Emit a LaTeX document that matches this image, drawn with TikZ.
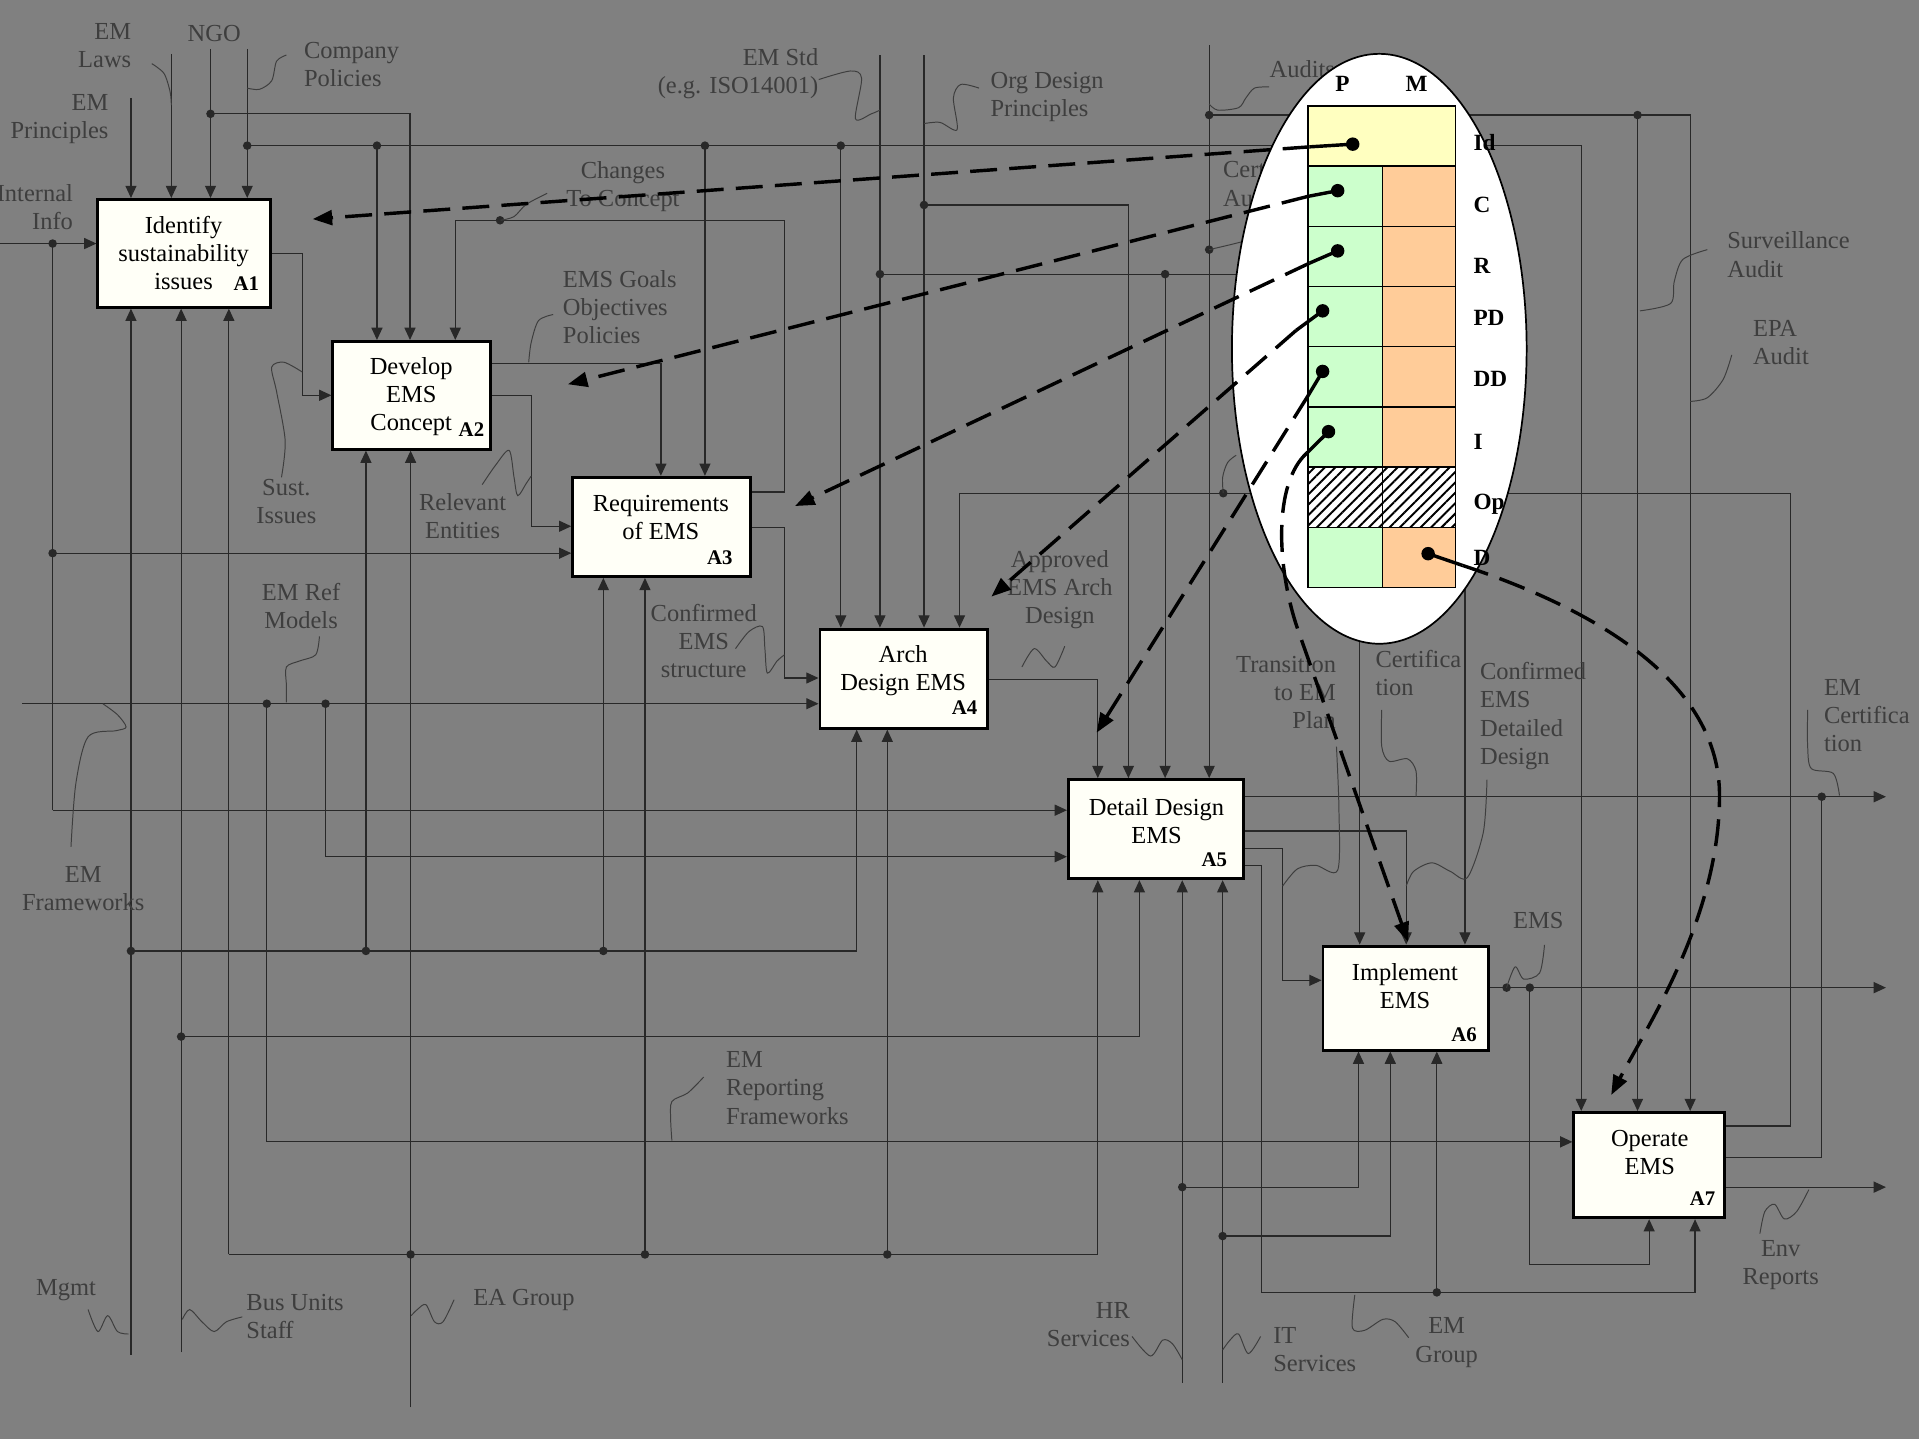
\documentclass[tikz,border=0pt]{standalone}
\usepackage{fontspec}
\setmainfont{Liberation Serif}
\usetikzlibrary{arrows.meta,patterns.meta}
\definecolor{bgcol}{RGB}{128,128,128}
\definecolor{wirecol}{RGB}{40,40,40}
\definecolor{lblcol}{RGB}{62,62,62}
\definecolor{boxcol}{RGB}{255,255,247}
\definecolor{idcol}{RGB}{255,255,192}
\definecolor{pcol}{RGB}{204,255,204}
\definecolor{mcol}{RGB}{255,204,153}

\begin{document}
\begin{tikzpicture}
  [x=0.5pt,y=-0.5pt,font=\fontsize{10}{11.5}\selectfont,
   wire/.style={draw=wirecol,line width=0.5pt},
   flow/.style={wire,-{Triangle[width=4.5pt,length=5pt]}},
   jn/.style={circle,fill=wirecol,inner sep=0pt,minimum size=3.5pt},
   proc/.style={draw=black,line width=1.2pt,fill=boxcol,inner sep=0pt},
   tag/.style={font=\fontsize{8.5}{10}\selectfont\bfseries,anchor=base east,inner sep=0pt},
   lab/.style={text=lblcol,inner sep=0pt},
   lead/.style={draw=lblcol,line width=0.4pt},
   pmdot/.style={circle,fill=black,inner sep=0pt,minimum size=5.5pt},
   pmtxt/.style={font=\fontsize{9.5}{11}\selectfont\bfseries,inner sep=0pt},
   stub/.style={line width=1.4pt},
   pmlink/.style={line width=1.4pt,dash pattern=on 11pt off 5pt,-{Triangle[length=8pt,width=6pt]}}]
  \fill[bgcol] (0,0) rectangle (1568,1176);
  \useasboundingbox (0,0) rectangle (1568,1176);

  % cac hop hoat dong
  \foreach \n/\xa/\ya/\xb/\yb in {A1/80/163/221/251,A2/272/279/401/367,A3/468/390/613/471,
    A4/670/514/807/595,A5/873/637/1016/718,A6/1081/773/1216/858,A7/1286/909/1409/995}
    \node[proc,minimum width={(\xb-\xa)*0.5pt},minimum height={(\yb-\ya)*0.5pt}]
      (\n) at ({(\xa+\xb)/2},{(\ya+\yb)/2}) {};
  \foreach \n/\p/\t in {A1/{150,207}/{Identify\\sustainability\\issues},A2/{336,324}/{Develop\\EMS\\Concept},
    A3/{540,423}/{Requirements\\of EMS},A4/{738,548}/{Arch\\Design EMS},A5/{945,671}/{Detail Design\\EMS},
    A6/{1148,806}/{Implement\\EMS},A7/{1348,942}/{Operate\\EMS}}
    \node[align=center,inner sep=0pt] (t\n) at (\p) {\t};
  \foreach \n/\p in {A1/{212,237},A2/{396,357},A3/{599,461},A4/{799,584},A5/{1003,708},A6/{1207,851},A7/{1402,985}}
    \node[tag] (g\n) at (\p) {\n};

  % dau vao, dieu khien
  \foreach \x/\y in {107/80,140/44,172/40,202/40}
    \draw[flow] (\x,\y) -- (\x,0 |- A1.north);
  \draw[flow] (172,93) -| (335,0 |- A2.north);
  \draw[flow] (202,119) -| (1292,0 |- A7.north);
  \draw[flow] (308,119) -- (308,0 |- A2.north);
  \draw[flow] (576,119) -- (576,0 |- A3.north);
  \draw[flow] (687,119) -- (687,0 |- A4.north);
  \draw[flow] (0,199) -- (A1.west |- 0,199);
  \draw[wire] (43,199) -- (43,662);
  \draw[flow] (43,662) -- (A5.west |- 0,662);
  \draw[flow] (43,452) -- (A3.west |- 0,452);
  \draw[flow] (A1.east |- 0,207) -| (247,323) -- (A2.west |- 0,323);
  \draw[flow] (A2.east |- 0,297) -| (540,0 |- A3.north);
  \draw[flow] (A2.east |- 0,323) -| (434,430) -- (A3.west |- 0,430);
  \draw[flow] (A3.east |- 0,402) -| (641,180) -| (372,0 |- A2.north);
  \draw[flow] (A3.east |- 0,431) -| (641,554) -- (A4.west |- 0,554);
  \draw[flow] (719,45) -- (719,0 |- A4.north);
  \draw[flow] (755,45) -- (755,0 |- A4.north);
  \draw[flow] (755,167.5) -| (922,0 |- A5.north);
  \draw[flow] (719,224) -| (1111,0 |- A6.north);
  \draw[flow] (952,224) -- (952,0 |- A5.north);
  \draw[flow] (988,37) -- (988,0 |- A5.north);
  \draw[flow] (988,94) -| (1381,0 |- A7.north);
  \draw[flow] (1338,94) -- (1338,0 |- A7.north);
  \draw[flow] (1197,300) -- (1197,0 |- A6.north);
  \draw[flow] (18,575) -- (A4.west |- 0,575);
  \draw[flow] (218,575) |- (A7.west |- 0,933);
  \draw[flow] (266,575) |- (A5.west |- 0,700);
  \draw[flow] (A4.east |- 0,555) -| (897,0 |- A5.north);
  \draw[flow] (A7.east |- 0,920) -| (1463,403) -| (784,0 |- A4.north);
  % dau ra
  \draw[flow] (A5.east |- 0,651) -- (1541,651);
  \draw[flow] (A5.east |- 0,679) -| (1149,0 |- A6.north);
  \draw[flow] (A5.east |- 0,693) -| (1048,801) -- (A6.west |- 0,801);
  \draw[flow] (A5.east |- 0,707) -| (1031,1056) -| (1385,0 |- A7.south);
  \draw[flow] (A6.east |- 0,807) -- (1541,807);
  \draw[flow] (1250,807) |- (1347.5,1033) -- (1347.5,0 |- A7.south);
  \draw[wire] (A7.east |- 0,946) -| (1488.5,651);
  \draw[flow] (A7.east |- 0,970) -- (1541,970);
  % co che
  \foreach \x/\y in {107/1107,148/1105}
    \draw[flow] (\x,\y) -- (\x,0 |- A1.south);
  \draw[flow] (187,1025) -- (187,0 |- A1.south);
  \draw[flow] (187,1025) -| (897,0 |- A5.south);
  \draw[flow] (335.5,1150) -- (335.5,0 |- A2.south);
  \draw[flow] (527,1025) -- (527,0 |- A3.south);
  \draw[flow] (725,1025) -- (725,0 |- A4.south);
  \draw[flow] (107,777) -| (700,0 |- A4.south);
  \draw[flow] (299,777) -- (299,0 |- A2.south);
  \draw[flow] (493,777) -- (493,0 |- A3.south);
  \draw[flow] (148,847) -| (931,0 |- A5.south);
  \draw[flow] (966,1130) -- (966,0 |- A5.south);
  \draw[flow] (999,1130) -- (999,0 |- A5.south);
  \draw[flow] (966,970) -| (1110,0 |- A6.south);
  \draw[flow] (999,1010) -| (1136,0 |- A6.south);
  \draw[flow] (1174,1056) -- (1174,0 |- A6.south);
  \foreach \p in {{43,199},{43,452},{172,93},{202,119},{308,119},{576,119},{687,119},{107,777},
    {299,777},{493,777},{148,847},{218,575},{266,575},{335.5,1025},{527,1025},{725,1025},
    {719,224},{755,167.5},{952,224},{988,94},{1338,94},{988,204},{999.5,403},{1488.5,651},
    {1231,807},{1250,807},{966,970},{999,1010},{1174,1056},{408.6,180}}
    \node[jn] at (\p) {};

  % nhan va duong dan
  \node[lab,anchor=east,align=right] (lLaws) at (107.6,37) {EM\\Laws};
  \node[lab,anchor=east,align=right] (lPrin) at (89,97) {EM\\Principles};
  \node[lab,anchor=east,align=right] (lInt) at (60,169.5) {Internal\\Info};
  \node[lab] (lNgo) at (175,27) {NGO};
  \node[lab,anchor=west,align=left] (lComp) at (248,53) {Company\\Policies};
  \node[lab,align=center] (lChg) at (509,152.6) {Changes\\To Concept};
  \node[lab,anchor=west,align=left] (lGoal) at (459.6,250.7) {EMS Goals\\Objectives\\Policies};
  \node[lab,anchor=east,align=right] (lStd) at (669,60) {EM Std\\(e.g. ISO14001)};
  \node[lab,anchor=west,align=left] (lOrg) at (809,79) {Org Design\\Principles};
  \node[lab,anchor=west] (lAud) at (1037,56.6) {Audits};
  \node[lab,anchor=west,align=left] (lCAud) at (999,150) {Certification\\Audit};
  \node[lab,anchor=west,align=left] (lSurv) at (1411,208) {Surveillance\\Audit};
  \node[lab,anchor=west,align=left] (lEpa) at (1432,280) {EPA\\Audit};
  \node[lab,align=center] (lSust) at (234,410) {Sust.\\Issues};
  \node[lab,align=center] (lRel) at (378,421.5) {Relevant\\Entities};
  \node[lab,align=center] (lRef) at (246,495) {EM Ref\\Models};
  \node[lab,align=center] (lFw) at (68,726) {EM\\Frameworks};
  \node[lab,align=center] (lConf) at (575,524) {Confirmed\\EMS\\structure};
  \node[lab,align=center] (lAppr) at (866,482) {Approved\\EMS Arch\\Design};
  \node[lab,anchor=east,align=right] (lTrans) at (1092,566) {Transition\\to EM\\Plan};
  \node[lab,anchor=west,align=left] (lCert) at (1123.6,550) {Certifica\\tion};
  \node[lab,anchor=west,align=left] (lDet) at (1209,585) {Confirmed\\EMS\\Detailed\\Design};
  \node[lab] (lEms) at (1257,752) {EMS};
  \node[lab,anchor=west,align=left] (lEmc) at (1490,585) {EM\\Certifica\\tion};
  \node[lab,align=center] (lEnv) at (1455,1034) {Env\\Reports};
  \node[lab,anchor=west,align=left] (lRep) at (593,889) {EM\\Reporting\\Frameworks};
  \node[lab] (lMg) at (54,1054) {Mgmt};
  \node[lab,anchor=west,align=left] (lBus) at (201,1076) {Bus Units\\Staff};
  \node[lab,anchor=west] (lEa) at (386.4,1062) {EA Group};
  \node[lab,anchor=east,align=right] (lHr) at (923.6,1082) {HR\\Services};
  \node[lab,anchor=west,align=left] (lIt) at (1040,1102.5) {IT\\Services};
  \node[lab,align=center] (lEmg) at (1182,1097) {EM\\Group};
  \draw[lead] plot[smooth] coordinates {(124,52) (134,60) (139,75) (140,86)};
  \draw[lead] plot[smooth] coordinates {(234,45) (226,50) (222,66) (212,73) (202,72)};
  \draw[lead] plot[smooth] coordinates {(447,158) (430,167) (420,177) (409,180)};
  \draw[lead] plot[smooth] coordinates {(452,257) (440,262) (434,280) (432,296)};
  \draw[lead] plot[smooth] coordinates {(669,65) (695,58) (704,64) (699,97) (712,93) (719,90)};
  \draw[lead] plot[smooth] coordinates {(800,72) (785,69) (779,80) (782,106) (768,100) (755,101)};
  \draw[lead] plot[smooth] coordinates {(1037,71) (1025,72) (1018,80) (1012,88) (995,90) (988,85)};
  \draw[lead] plot[smooth] coordinates {(1021,196) (1005,200) (988,204)};
  \draw[lead] plot[smooth] coordinates {(1395,204) (1375,212) (1368,230) (1365,248) (1340,254)};
  \draw[lead] plot[smooth] coordinates {(1415,290) (1408,310) (1395,325) (1381,328)};
  \draw[lead] plot[smooth] coordinates {(230,390) (233,360) (226,320) (222,300) (232,296) (247,304)};
  \draw[lead] plot[smooth] coordinates {(394,396) (405,380) (416,368) (420,390) (423,405) (430,395) (434,389)};
  \draw[lead] plot[smooth] coordinates {(261,520) (258,535) (245,540) (234,545) (234,560) (234,574)};
  \draw[lead] plot[smooth] coordinates {(58,692) (62,640) (72,602) (95,597) (103,594) (96,584) (84,575)};
  \draw[lead] plot[smooth] coordinates {(601,530) (612,516) (623,512) (625,530) (627,550) (635,540) (641,535)};
  \draw[lead] plot[smooth] coordinates {(835,545) (845,530) (855,540) (862,545) (870,528)};
  \draw[lead] plot[smooth] coordinates {(1092,610) (1094,660) (1093,711) (1075,707) (1060,710) (1048,724)};
  \draw[lead] plot[smooth] coordinates {(1129,580) (1129,610) (1135,622) (1150,620) (1157,630) (1157,651)};
  \draw[lead] plot[smooth] coordinates {(1215,637) (1212,680) (1199,717) (1185,712) (1170,705) (1155,712) (1149,724)};
  \draw[lead] plot[smooth] coordinates {(1262,772) (1258,795) (1245,800) (1238,790) (1231,807)};
  \draw[lead] plot[smooth] coordinates {(1477,580) (1477,610) (1480,628) (1498,632) (1503,650)};
  \draw[lead] plot[smooth] coordinates {(1438,1008) (1442,990) (1450,984) (1458,996) (1468,990) (1478,972)};
  \draw[lead] plot[smooth] coordinates {(575,880) (562,893) (549,900) (548,915) (549,932)};
  \draw[lead] plot[smooth] coordinates {(72,1070) (80,1088) (88,1075) (96,1088) (105,1090)};
  \draw[lead] plot[smooth] coordinates {(198,1076) (185,1080) (175,1088) (165,1080) (155,1070) (149,1078)};
  \draw[lead] plot[smooth] coordinates {(371,1062) (362,1080) (355,1080) (348,1066) (341,1070) (336,1075)};
  \draw[lead] plot[smooth] coordinates {(925,1092) (940,1108) (950,1095) (958,1098) (966,1111)};
  \draw[lead] plot[smooth] coordinates {(1030,1092) (1020,1106) (1012,1090) (1005,1095) (999,1103)};
  \draw[lead] plot[smooth] coordinates {(1151,1093) (1140,1080) (1130,1078) (1115,1087) (1105,1085) (1107,1058)};
  \draw[lead] plot[smooth] coordinates {(999.5,403) (999,390) (1003,378) (1010,372)};

  % bang P / M trong hinh elip
  \draw[fill=white,line width=0.7pt] (1127,285) ellipse [x radius=120.4,y radius=241];
  \def\xl{1068.6} \def\xm{1129.8} \def\xr{1189.3}
  \fill[idcol] (\xl,86.5) rectangle (\xr,135.7);
  \foreach \r in {1,2,3,4,5,7} {
    \fill[pcol] (\xl,{86.5+\r*49.2}) rectangle (\xm,{86.5+(\r+1)*49.2});
    \fill[mcol] (\xm,{86.5+\r*49.2}) rectangle (\xr,{86.5+(\r+1)*49.2});
  }
  \fill[pattern={Lines[angle=45,distance=3pt,line width=0.8pt]}]
    (\xl,{86.5+6*49.2}) rectangle (\xr,{86.5+7*49.2});
  \draw[line width=0.6pt] (\xl,86.5) rectangle (\xr,480.1) (\xm,135.7) -- (\xm,480.1);
  \foreach \r in {1,...,7}
    \draw[line width=0.6pt] (\xl,{86.5+\r*49.2}) -- (\xr,{86.5+\r*49.2});
  \node[pmtxt] (hP) at (1097,68.6) {P};
  \node[pmtxt] (hM) at (1157.5,68.6) {M};
  \foreach \t/\y in {Id/116.7,C/167.8,R/217,PD/259.7,DD/310,I/361,Op/412,D/456}
    \node[pmtxt,anchor=west] (r\t) at (1203.6,\y) {\t};

  % mui ten net dut tu bang toi cac hop
  \path
  (255.4,179) coordinate (eId)
  (464,314) coordinate (eC)
  (649.6,413.5) coordinate (eR)
  (810,487.5) coordinate (ePD)
  (896,598.7) coordinate (eDD)
  (1150.5,769.5) coordinate (eI)
  (1316.5,894.7) coordinate (eD);
  \foreach \t/\p/\s in {Id/{1105.3,117.8}/{1070,120},C/{1093,155.8}/{1068.6,160.5},
    R/{1093,205}/{1070,215},PD/{1080.7,254}/{1059,270},DD/{1080.7,303.5}/{1069,323},
    I/{1085.5,352.7}/{1068,370},D/{1166.9,452.4}/{1195,462}}
  {
    \node[pmdot] (d\t) at (\p) {};
    \draw[stub] (d\t.center) -- (\s) coordinate (s\t);
  }
  \foreach \t in {Id,C,R,PD,DD}
    \draw[pmlink] (s\t) -- (e\t);
  \draw[pmlink] (sI) .. controls (1040,395) and (1043,465) .. (1061,516) -- (eI);
  \draw[pmlink] (sD) .. controls (1310,500) and (1405,560) .. (1405,650)
    .. controls (1405,750) and (1345,840) .. (eD);
\end{tikzpicture}
\end{document}
